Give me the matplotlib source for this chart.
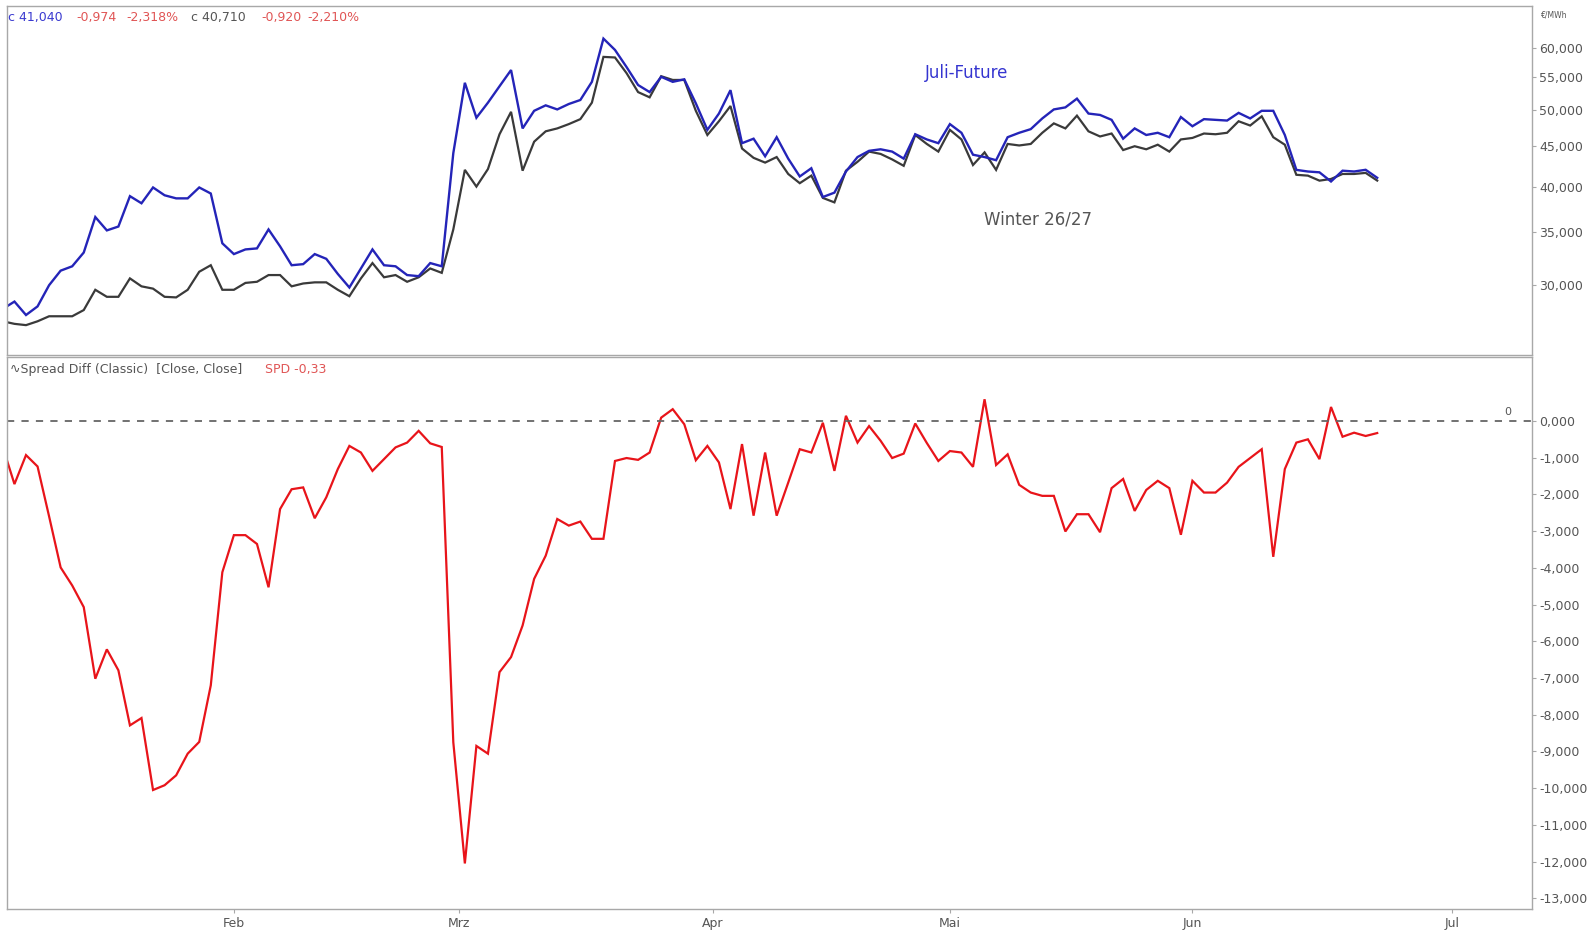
import matplotlib
matplotlib.use("Agg")
import matplotlib.pyplot as plt
from matplotlib.ticker import FixedLocator, FuncFormatter, NullLocator

# ---------------------------------------------------------------
# Data: one value per trading day (index 0 = first session shown)
# ---------------------------------------------------------------
juli_future = [
    28.0, 28.6, 27.5, 28.2, 30.0, 31.3, 31.7, 33.0, 36.6, 35.2,
    35.6, 38.9, 38.1, 39.9, 39.0, 38.65, 38.65, 39.9, 39.2, 33.9,
    32.85, 33.3, 33.4, 35.3, 33.6, 31.8, 31.9, 32.85, 32.4, 31.0,
    29.8, 31.5, 33.3, 31.8, 31.7, 30.9, 30.8, 32.0, 31.7, 44.1,
    54.15, 48.9, 51.1, 53.6, 56.2, 47.4, 49.9, 50.7, 50.1, 50.9,
    51.5, 54.3, 61.6, 59.6, 56.7, 53.8, 52.7, 55.1, 54.3, 54.7,
    51.0, 47.2, 49.5, 53.0, 45.4, 46.0, 43.7, 46.2, 43.4, 41.2,
    42.2, 38.8, 39.3, 41.8, 43.6, 44.4, 44.6, 44.3, 43.4, 46.6,
    45.9, 45.4, 48.0, 46.8, 43.9, 43.6, 43.2, 46.2, 46.8, 47.3,
    48.8, 50.1, 50.4, 51.7, 49.5, 49.3, 48.6, 46.0, 47.4, 46.5,
    46.8, 46.2, 49.0, 47.7, 48.7, 48.6, 48.5, 49.6, 48.8, 49.9,
    49.9, 46.5, 42.0, 41.8, 41.7, 40.6, 41.9, 41.8, 42.01, 41.04,
]

winter_2627 = [
    27.0, 26.8, 26.7, 27.0, 27.4, 27.4, 27.4, 27.9, 29.6, 29.0,
    29.0, 30.6, 29.9, 29.7, 29.0, 28.95, 29.6, 31.2, 31.8, 29.6,
    29.6, 30.2, 30.3, 30.9, 30.9, 29.9, 30.15, 30.25, 30.25, 29.6,
    29.05, 30.6, 32.0, 30.7, 30.9, 30.3, 30.7, 31.5, 31.1, 35.3,
    42.0, 40.0, 42.1, 46.6, 49.75, 41.9, 45.6, 47.0, 47.4, 48.0,
    48.7, 51.1, 58.4, 58.3, 55.7, 52.7, 51.9, 55.2, 54.6, 54.6,
    49.9, 46.5, 48.4, 50.6, 44.7, 43.5, 42.9, 43.6, 41.5, 40.4,
    41.3, 38.7, 38.2, 41.9, 43.0, 44.3, 44.0, 43.3, 42.5, 46.5,
    45.3, 44.3, 47.2, 45.9, 42.6, 44.2, 42.0, 45.3, 45.1, 45.3,
    46.8, 48.1, 47.4, 49.2, 47.0, 46.3, 46.7, 44.5, 45.0, 44.6,
    45.2, 44.3, 45.9, 46.1, 46.7, 46.6, 46.8, 48.4, 47.8, 49.1,
    46.2, 45.2, 41.4, 41.3, 40.7, 40.9, 41.5, 41.5, 41.63, 40.71,
]

spread_diff = [
    -0.72, -1.72, -0.93, -1.24, -2.6, -3.99, -4.48, -5.07, -7.02, -6.22,
    -6.79, -8.29, -8.09, -10.05, -9.92, -9.65, -9.06, -8.74, -7.2, -4.12,
    -3.11, -3.11, -3.35, -4.53, -2.4, -1.86, -1.81, -2.65, -2.08, -1.31,
    -0.68, -0.86, -1.36, -1.04, -0.72, -0.59, -0.27, -0.61, -0.71, -8.75,
    -12.05, -8.85, -9.06, -6.84, -6.43, -5.57, -4.30, -3.67, -2.67, -2.85,
    -2.74, -3.21, -3.21, -1.09, -1.01, -1.06, -0.86, 0.09, 0.32, -0.09,
    -1.07, -0.68, -1.13, -2.40, -0.63, -2.58, -0.86, -2.58, -1.68, -0.77,
    -0.86, -0.05, -1.36, 0.14, -0.59, -0.14, -0.54, -1.01, -0.89, -0.07,
    -0.6, -1.09, -0.82, -0.86, -1.25, 0.59, -1.2, -0.91, -1.74, -1.95,
    -2.04, -2.04, -3.01, -2.54, -2.54, -3.03, -1.83, -1.58, -2.45, -1.88,
    -1.63, -1.83, -3.10, -1.63, -1.95, -1.95, -1.68, -1.25, -1.01, -0.77,
    -3.70, -1.31, -0.59, -0.50, -1.04, 0.38, -0.43, -0.32, -0.41, -0.33,
]

month_labels = ["Feb", "Mrz", "Apr", "Mai", "Jun", "Jul"]
month_starts = [20, 39.5, 61.5, 82, 103, 125.5]
price_ticks = [30, 35, 40, 45, 50, 55, 60]
spread_ticks = [0, -1, -2, -3, -4, -5, -6, -7, -8, -9, -10, -11, -12, -13]

BLUE = "#2424b8"
DARK = "#3a3a3a"
RED = "#e8141a"
GRID_GREY = "#a8a8a8"
TEXT_GREY = "#555555"
HDR_RED = "#e05555"


def de_fmt(v, _pos=None):
    # German style numbers: 60,000 / -1,000
    return f"{v:.3f}".replace(".", ",")


def style_axis(ax):
    for sp in ax.spines.values():
        sp.set_color(GRID_GREY)
        sp.set_linewidth(1.0)
    ax.yaxis.tick_right()
    ax.tick_params(axis="y", which="both", direction="out", length=3,
                   color=GRID_GREY, labelsize=9, labelcolor=TEXT_GREY, pad=2)
    ax.set_facecolor("white")


plt.rcParams["font.family"] = ["DejaVu Sans"]

fig = plt.figure(figsize=(15.96, 9.36), dpi=100)
ax_top = fig.add_axes([0.00457, 0.6207, 0.9553, 0.3729])
ax_bot = fig.add_axes([0.00457, 0.02885, 0.9553, 0.5897], sharex=ax_top)

x = list(range(len(juli_future)))

# ---------------- upper panel: prices ----------------
ax_top.plot(x, winter_2627, color=DARK, lw=1.6, solid_joinstyle="miter")
ax_top.plot(x, juli_future, color=BLUE, lw=1.7, solid_joinstyle="miter")
ax_top.set_yscale("log")
ax_top.set_ylim(24.47, 67.75)
ax_top.yaxis.set_major_locator(FixedLocator(price_ticks))
ax_top.yaxis.set_minor_locator(NullLocator())
ax_top.yaxis.set_major_formatter(FuncFormatter(de_fmt))
style_axis(ax_top)
ax_top.tick_params(axis="x", which="both", bottom=False, labelbottom=False)

ax_top.text(83.4, 55.7, "Juli-Future", color="#3535d0", fontsize=12,
            ha="center", va="center")
ax_top.text(89.6, 36.3, "Winter 26/27", color="#555555", fontsize=12,
            ha="center", va="center")

# ---------------- lower panel: spread ----------------
ax_bot.plot(x, spread_diff, color=RED, lw=1.6, solid_joinstyle="miter")
ax_bot.axhline(0, color="#666666", lw=1.3, ls=(0, (4, 4)))
ax_bot.text(130.3, 0.12, "0", color=TEXT_GREY, fontsize=8,
            ha="center", va="bottom")
ax_bot.set_ylim(-13.29, 1.74)
ax_bot.yaxis.set_major_locator(FixedLocator(spread_ticks))
ax_bot.yaxis.set_major_formatter(FuncFormatter(de_fmt))
style_axis(ax_bot)

ax_bot.set_xlim(0.38, 132.4)
ax_bot.set_xticks(month_starts)
ax_bot.set_xticklabels(month_labels)
ax_bot.tick_params(axis="x", direction="out", length=3, color=GRID_GREY,
                   labelsize=9, labelcolor=TEXT_GREY, pad=3)

# ---------------- header texts ----------------
hdr_y = 1 - 17 / 936
header = [
    (8, "c 41,040", "#3a3ad0"),
    (76, "-0,974", HDR_RED),
    (126, "-2,318%", HDR_RED),
    (191, "c 40,710", TEXT_GREY),
    (261, "-0,920", HDR_RED),
    (307, "-2,210%", HDR_RED),
]
for px, txt, col in header:
    fig.text(px / 1596, hdr_y, txt, color=col, fontsize=9, va="center", ha="left")

fig.text(1554 / 1596, 1 - 15 / 936, "€/MWh", color=TEXT_GREY, fontsize=5.5,
         va="center", ha="center")

sub_y = 1 - 370 / 936
fig.text(10 / 1596, sub_y, "\u223fSpread Diff (Classic)  [Close, Close]",
         color=TEXT_GREY, fontsize=9, va="center", ha="left")
fig.text(265 / 1596, sub_y, "SPD -0,33", color=HDR_RED, fontsize=9,
         va="center", ha="left")

fig.savefig("out.png", dpi=100, facecolor="white")
plt.close(fig)
